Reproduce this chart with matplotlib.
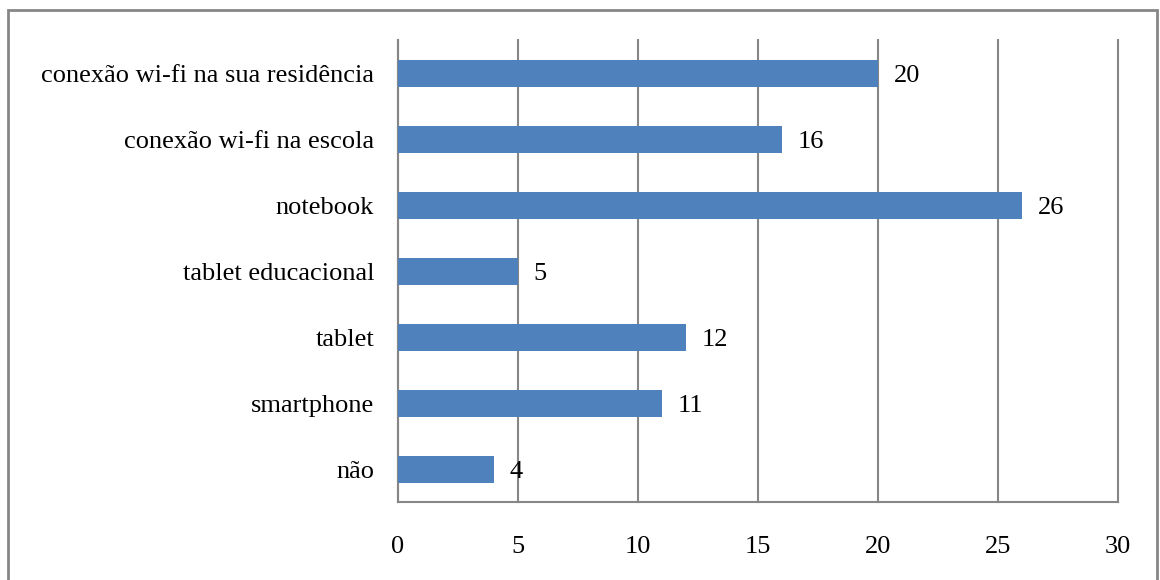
import matplotlib
matplotlib.use("Agg")
import matplotlib.pyplot as plt
from matplotlib.patches import Rectangle

categories = ["não", "smartphone", "tablet", "tablet educacional",
              "notebook", "conexão wi-fi na escola",
              "conexão wi-fi na sua residência"]
values = [4, 11, 12, 5, 26, 16, 20]
xticks = [0, 5, 10, 15, 20, 25, 30]

BAR = "#4F81BD"
GRID = "#868686"

plt.rcParams["font.family"] = ["Liberation Serif", "DejaVu Serif"]

fig = plt.figure(figsize=(11.6, 5.8), dpi=100)
ax = fig.add_axes([0.343, 0.134, 0.621, 0.797])

y = range(len(categories))
ax.barh(y, values, height=0.41, color=BAR, zorder=3)
for yi, v in zip(y, values):
    ax.text(v + 0.65, yi, str(v), va="center_baseline", ha="left", fontsize=19)

ax.set_xlim(0, 30)
ax.set_ylim(-0.5, len(categories) - 0.5)
ax.set_xticks(xticks)
ax.set_yticks(list(y))
ax.set_yticklabels(categories)
ax.tick_params(axis="x", length=0, pad=24, labelsize=19)
ax.tick_params(axis="y", length=0, pad=17, labelsize=19)
ax.grid(axis="x", color=GRID, linewidth=1.5, zorder=0)
for gl in ax.get_xgridlines():
    gl.set_clip_on(False)

for side in ("top", "right"):
    ax.spines[side].set_visible(False)
for side in ("left", "bottom"):
    ax.spines[side].set_color(GRID)
    ax.spines[side].set_linewidth(1.5)

# outer frame around the chart area
fig.add_artist(Rectangle((8 / 1160, -0.05), 1149 / 1160, 1.05 - 10 / 580,
                         transform=fig.transFigure, fill=False,
                         edgecolor=GRID, linewidth=2))

fig.savefig("out.png", dpi=100)
